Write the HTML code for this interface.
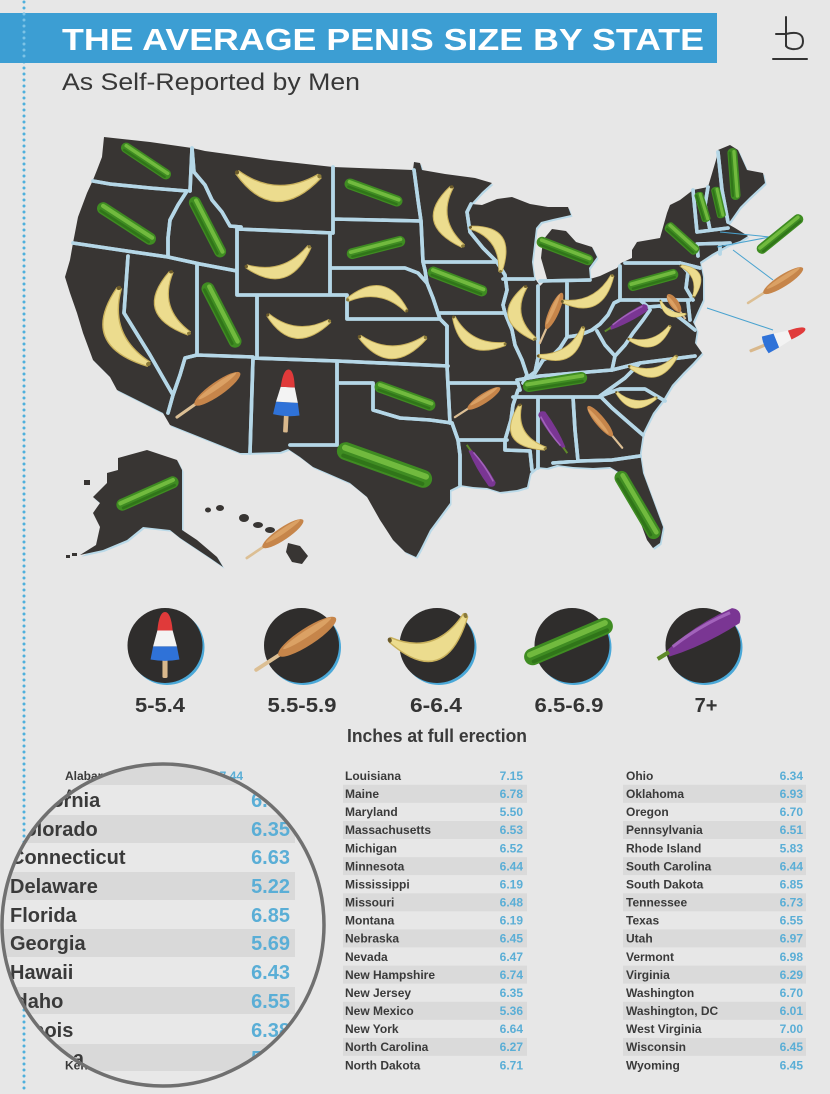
<!DOCTYPE html>
<html><head><meta charset="utf-8">
<style>
html,body{margin:0;padding:0;background:#e7e7e7;}
svg{display:block;}
text{font-family:"Liberation Sans",Arial,sans-serif;}
</style></head>
<body>
<svg width="830" height="1094" viewBox="0 0 830 1094" xmlns="http://www.w3.org/2000/svg">
<defs>
  <g id="cuc">
    <rect x="-50" y="-9" width="100" height="18" rx="9" fill="#3f8c22"/>
    <rect x="-46" y="-6" width="92" height="6" rx="3" fill="#7ec646" opacity=".8"/>
    <rect x="-44" y="3" width="88" height="4" rx="2" fill="#276514" opacity=".6"/>
  </g>
  <g id="ban">
    <path d="M-50,-18 Q0,40 50,-22 L46,-26 Q0,6 -47,-22 Z" fill="#ecdc8e" stroke="#c9b15c" stroke-width="1.5"/>
    <circle cx="-49" cy="-20" r="2.5" fill="#6b5a2a"/>
    <circle cx="48" cy="-24" r="2.5" fill="#8a7a3a"/>
  </g>
  <g id="cd">
    <line x1="-50" y1="0" x2="-10" y2="0" stroke="#dcbf94" stroke-width="4" stroke-linecap="round"/>
    <ellipse cx="14" cy="0" rx="36" ry="9" fill="#c6854a"/>
    <ellipse cx="16" cy="-3" rx="30" ry="3.5" fill="#e0a86a" opacity=".8"/>
  </g>
  <g id="egg">
    <path d="M-38,-2 Q0,-12 44,-10 Q54,-4 44,6 Q0,10 -38,4 Z" fill="#7a3693"/>
    <path d="M-30,-3 Q5,-9 40,-7" stroke="#b476cc" stroke-width="3" fill="none" opacity=".7"/>
    <path d="M-50,1 L-36,0" stroke="#5f8a2a" stroke-width="4"/>
  </g>
  <g id="pop">
    <rect x="-3" y="20" width="6" height="30" rx="2" fill="#d9b88c"/>
    <path d="M-14,2 L14,2 L17,22 Q0,26 -17,22 Z" fill="#2f72d8"/>
    <path d="M-9,-22 L9,-22 L14,2 L-14,2 Z" fill="#f3f3f3"/>
    <path d="M-9,-22 Q-7,-50 0,-50 Q7,-50 9,-22 Z" fill="#e03a3a"/>
  </g>
  <clipPath id="mag"><circle cx="163" cy="925" r="161"/></clipPath>
</defs>

<rect width="830" height="1094" fill="#e7e7e7"/>

<!-- dotted vertical line -->
<line x1="24" y1="2" x2="24" y2="1094" stroke="#4fb0dc" stroke-width="3" stroke-dasharray="0 6" stroke-linecap="round"/>

<!-- title bar -->
<rect x="0" y="13" width="717" height="50" fill="#3c9ed3"/>
<line x1="24" y1="14" x2="24" y2="62" stroke="#7cc3e6" stroke-width="3" stroke-dasharray="0 6" stroke-linecap="round"/>
<text x="62" y="50" font-size="31" font-weight="bold" fill="#ffffff" textLength="642" lengthAdjust="spacingAndGlyphs">THE AVERAGE PENIS SIZE BY STATE</text>
<text x="62" y="90" font-size="24" fill="#383838" textLength="298" lengthAdjust="spacingAndGlyphs">As Self-Reported by Men</text>

<!-- logo -->
<g stroke="#333" stroke-width="2" fill="none" stroke-linecap="round">
  <line x1="786" y1="17" x2="786" y2="46"/>
  <line x1="776" y1="34" x2="786" y2="34"/>
  <path d="M786,34 Q803,30 803,41 Q803,50 792,49 Q786,48 786,45"/>
  <line x1="773" y1="59" x2="807" y2="59"/>
</g>

<!-- MAP -->
<g>
<path transform="translate(1.5,1.8)" fill="#b9d9e8" d="M104,137 L150,142 L192,148 L205,151 L270,160 L333,167 L413,170 L414,162 L420,163 L422,170 L445,174 L475,178 L492,183 L482,192 L471,204 L482,205 L497,199 L512,197 L530,204 L548,207 L568,207 L571,215 L553,219 L541,222 L536,228 L534,245 L532,262 L534,277 L540,286 L547,279 L541,258 L543,240 L552,229 L566,231 L576,242 L592,247 L597,257 L589,268 L590,279 L600,276 L617,268 L621,263 L632,258 L632,250 L637,242 L660,238 L667,213 L670,205 L680,200 L693,190 L708,187 L716,160 L718,150 L730,145 L738,150 L747,170 L763,173 L765,183 L750,197 L740,207 L733,217 L728,224 L735,228 L748,236 L740,241 L728,245 L712,254 L700,262 L703,277 L703,300 L697,313 L693,322 L697,330 L695,343 L702,353 L693,363 L683,373 L672,385 L663,400 L653,413 L643,433 L640,453 L643,473 L653,500 L663,527 L660,543 L653,548 L647,540 L637,513 L630,493 L620,473 L610,467 L593,468 L573,467 L557,465 L547,468 L537,467 L530,473 L527,487 L517,490 L500,492 L487,488 L473,487 L460,485 L450,490 L450,503 L430,530 L420,550 L416,557 L405,552 L393,540 L380,520 L367,497 L350,483 L327,473 L313,467 L300,457 L288,449 L280,452 L247,453 L240,453 L170,425 L163,413 L137,400 L117,390 L110,377 L93,360 L83,333 L77,313 L70,293 L65,277 L70,260 L73,243 L78,217 L87,193 L93,180 L97,170 L102,157 Z"/>
<path fill="#383533" d="M104,137 L150,142 L192,148 L205,151 L270,160 L333,167 L413,170 L414,162 L420,163 L422,170 L445,174 L475,178 L492,183 L482,192 L471,204 L482,205 L497,199 L512,197 L530,204 L548,207 L568,207 L571,215 L553,219 L541,222 L536,228 L534,245 L532,262 L534,277 L540,286 L547,279 L541,258 L543,240 L552,229 L566,231 L576,242 L592,247 L597,257 L589,268 L590,279 L600,276 L617,268 L621,263 L632,258 L632,250 L637,242 L660,238 L667,213 L670,205 L680,200 L693,190 L708,187 L716,160 L718,150 L730,145 L738,150 L747,170 L763,173 L765,183 L750,197 L740,207 L733,217 L728,224 L735,228 L748,236 L740,241 L728,245 L712,254 L700,262 L703,277 L703,300 L697,313 L693,322 L697,330 L695,343 L702,353 L693,363 L683,373 L672,385 L663,400 L653,413 L643,433 L640,453 L643,473 L653,500 L663,527 L660,543 L653,548 L647,540 L637,513 L630,493 L620,473 L610,467 L593,468 L573,467 L557,465 L547,468 L537,467 L530,473 L527,487 L517,490 L500,492 L487,488 L473,487 L460,485 L450,490 L450,503 L430,530 L420,550 L416,557 L405,552 L393,540 L380,520 L367,497 L350,483 L327,473 L313,467 L300,457 L288,449 L280,452 L247,453 L240,453 L170,425 L163,413 L137,400 L117,390 L110,377 L93,360 L83,333 L77,313 L70,293 L65,277 L70,260 L73,243 L78,217 L87,193 L93,180 L97,170 L102,157 Z"/>

<!-- Alaska -->
<path transform="translate(1.5,1.8)" fill="#b9d9e8" d="M118,458 L147,450 L177,460 L182,470 L182,530 L197,540 L217,557 L223,567 L210,558 L195,548 L180,538 L170,530 L143,527 L127,540 L103,550 L80,555 L96,545 L100,527 L93,513 L100,503 L93,497 L107,483 L107,473 L118,470 Z"/>
<path fill="#383533" d="M118,458 L147,450 L177,460 L182,470 L182,530 L197,540 L217,557 L223,567 L210,558 L195,548 L180,538 L170,530 L143,527 L127,540 L103,550 L80,555 L96,545 L100,527 L93,513 L100,503 L93,497 L107,483 L107,473 L118,470 Z"/>
<g fill="#383533">
  <rect x="84" y="480" width="6" height="5"/>
  <rect x="72" y="553" width="5" height="3"/>
  <rect x="66" y="555" width="4" height="3"/>
</g>
<!-- Hawaii -->
<g fill="#383533">
  <ellipse cx="208" cy="510" rx="3" ry="2.5"/>
  <ellipse cx="220" cy="508" rx="4" ry="3"/>
  <ellipse cx="244" cy="518" rx="5" ry="4"/>
  <ellipse cx="258" cy="525" rx="5" ry="3"/>
  <ellipse cx="270" cy="530" rx="5" ry="3"/>
  <path d="M288,543 L300,546 L308,556 L302,564 L292,562 L286,552 Z"/>
</g>

<!-- state borders -->
<g fill="none" stroke-linejoin="round" stroke-linecap="round">
<path id="brd" stroke="#b5d7e7" stroke-width="3.6" d="
M93,181 L110,184 L150,188 L187,191
M192,148 L190,191
M187,191 L178,205 L170,220 L168,238 L168,257
M73,243 L120,250 L168,257 L200,264 L237,271
M192,148 L194,172 L205,185 L212,200 L222,212 L230,226 L241,227
M237,228 L237,271
M237,229 L333,233
M333,167 L333,233
M333,219 L421,221
M330,233 L330,295
M237,271 L237,295 L347,295
M330,268 L405,268 L418,273 L427,283
M347,295 L347,319 L440,319
M427,283 L433,298 L440,319 L447,326
M197,264 L197,355
M257,295 L257,358
M197,355 L253,357
M197,355 L185,358 L180,375 L173,395 L168,413
M128,256 L124,313 L150,355 L173,395
M253,358 L337,361 L448,366
M253,358 L250,453
M337,361 L337,445 L290,445
M337,383 L373,383 L373,410 L400,418 L430,420 L452,423
M447,326 L447,366 L450,423
M414,170 L418,200 L421,221 L423,262 L425,270 L427,283
M423,262 L497,262
M471,204 L467,212 L470,232 L483,248 L497,262
M497,262 L505,275 L507,290 L503,305 L505,313 L512,330 L515,345 L522,360 L527,375 L523,383
M440,313 L505,313
M503,279 L534,279
M450,383 L518,383 L520,390
M538,286 L538,358 L535,372 L527,378
M567,281 L567,337
M540,281 L590,280
M535,373 L543,360 L553,355 L560,348 L567,337
M567,337 L580,335 L592,330 L600,324 L608,315 L614,303 L620,300
M620,266 L620,300
M517,380 L540,376 L612,370
M597,331 L605,345 L615,356 L612,370
M615,356 L625,345 L633,333 L643,320 L650,310
M620,300 L690,300
M640,300 L648,307 L660,306 L672,312 L685,322 L695,330
M612,370 L640,363 L695,356
M640,363 L625,378 L600,396
M513,397 L600,397
M600,396 L620,389 L645,389 L665,401
M600,396 L612,408 L628,422 L643,435
M573,397 L575,430 L578,461
M553,463 L580,461 L612,460 L640,456
M538,397 L538,468
M518,390 L513,405 L511,420 L505,440 L505,450 L530,451 L532,470
M458,440 L507,440
M452,423 L458,440 L460,455 L460,485
M625,263 L680,263
M680,263 L688,272 L686,288 L693,300
M680,263 L700,268
M693,190 L697,232
M708,187 L705,205 L710,230
M718,152 L722,190 L728,222
M697,232 L728,228
M697,244 L730,243
M720,244 L720,254
M697,244 L698,256
M688,302 L690,320
"/>
<use href="#brd" stroke="#f1f6f8" stroke-width="2"/>
</g>

<!-- callout lines -->
<g stroke="#4aa3cf" stroke-width="1">
  <line x1="720" y1="232" x2="770" y2="237"/>
  <line x1="717" y1="247" x2="770" y2="237"/>
  <line x1="733" y1="250" x2="773" y2="280"/>
  <line x1="707" y1="308" x2="773" y2="330"/>
</g>

<!-- food items on map -->
<use href="#cuc" transform="translate(146,161) rotate(33.7) scale(.58)"/>
<use href="#cuc" transform="translate(126.5,223.5) rotate(33) scale(.68)"/>
<use href="#cuc" transform="translate(207.5,227) rotate(62.7) scale(.67)"/>
<use href="#ban" transform="translate(277,193) rotate(5) scale(.85)"/>
<use href="#cuc" transform="translate(373.5,192.5) rotate(20) scale(.61)"/>
<use href="#cuc" transform="translate(376,247.5) rotate(-14.5) scale(.6)"/>
<use href="#ban" transform="translate(282,271) rotate(-15) scale(.68)"/>
<use href="#ban" transform="translate(380,292) rotate(193) scale(.62)"/>
<use href="#ban" transform="translate(114,333) rotate(71.5) scale(.84,.95)"/>
<use href="#ban" transform="translate(163,307) rotate(76.6) scale(.66,.8)"/>
<use href="#cuc" transform="translate(221.5,315) rotate(62.7) scale(.72)"/>
<use href="#ban" transform="translate(297,332) rotate(8) scale(.64)"/>
<use href="#ban" transform="translate(392,352) rotate(3) scale(.68)"/>
<use href="#cd" transform="translate(208.5,395) rotate(-35) scale(.77)"/>
<use href="#pop" transform="translate(287,401) rotate(3) scale(.78,.63)"/>
<use href="#cuc" transform="translate(405,396) rotate(20) scale(.64)"/>
<use href="#cuc" transform="translate(384.5,465) rotate(19.7) scale(1.0)"/>
<use href="#cuc" transform="translate(147.5,493.5) rotate(-24) scale(.67)"/>
<use href="#cd" transform="translate(275,539) rotate(-34) scale(.68)"/>

<use href="#ban" transform="translate(441,219) rotate(82) scale(.62,.75)"/>
<use href="#ban" transform="translate(497,241) rotate(53) scale(.55,-.65)"/>
<use href="#cuc" transform="translate(565,251) rotate(21) scale(.6)"/>
<use href="#cuc" transform="translate(457.5,281.5) rotate(21) scale(.63)"/>
<use href="#ban" transform="translate(515,315) rotate(83) scale(.55,.7)"/>
<use href="#cd" transform="translate(551,318) rotate(-66) scale(.55)"/>
<use href="#ban" transform="translate(593,300) rotate(-25) scale(.58)"/>
<use href="#ban" transform="translate(473,342) rotate(30) scale(.6)"/>
<use href="#ban" transform="translate(567,352) rotate(-30) scale(.55)"/>
<use href="#egg" transform="translate(626.5,319) rotate(-28.6) scale(.5)"/>
<use href="#ban" transform="translate(652,342) rotate(-15) scale(.45)"/>
<use href="#cuc" transform="translate(555,382) rotate(-9) scale(.65)"/>
<use href="#ban" transform="translate(655,372) rotate(-10) scale(.5)"/>
<use href="#cd" transform="translate(477.5,402.5) rotate(-33) scale(.54)"/>
<use href="#ban" transform="translate(635,404) rotate(10) scale(.42)"/>
<use href="#ban" transform="translate(519,434) rotate(63) scale(.52,.7)"/>
<use href="#egg" transform="translate(554,432) rotate(-121) scale(.5)"/>
<use href="#cd" transform="translate(605,427) rotate(-129.7) scale(.54)"/>
<use href="#egg" transform="translate(480,466) rotate(59) scale(.5)"/>
<use href="#cuc" transform="translate(637.5,505) rotate(59.4) scale(.77)"/>
<use href="#cuc" transform="translate(653,280) rotate(-15.6) scale(.52,.6)"/>
<use href="#cuc" transform="translate(682,238.5) rotate(42) scale(.42,.6)"/>
<use href="#cuc" transform="translate(702.5,207) rotate(73) scale(.31,.5)"/>
<use href="#cuc" transform="translate(718.5,202.5) rotate(77) scale(.32,.5)"/>
<use href="#cuc" transform="translate(734,174) rotate(85.6) scale(.52,.55)"/>
<use href="#ban" transform="translate(696,277) rotate(64) scale(.35,-.45)"/>
<use href="#cd" transform="translate(676.5,306.5) rotate(-126) scale(.3,.5)"/>
<use href="#ban" transform="translate(670,313) rotate(30) scale(.3)"/>

<use href="#cuc" transform="translate(780,234) rotate(-39) scale(.57)"/>
<use href="#cd" transform="translate(775.5,285.5) rotate(-32.5) scale(.65)"/>
<use href="#pop" transform="translate(777.5,340) rotate(68) scale(.53,.6)"/>
</g>

<!-- LEGEND -->
<g>
  <circle cx="167" cy="647.5" r="37.5" fill="#4aa8d8"/>
  <circle cx="165" cy="645.5" r="37.5" fill="#2f2d2c"/>
  <circle cx="303.5" cy="647.5" r="37.5" fill="#4aa8d8"/>
  <circle cx="301.5" cy="645.5" r="37.5" fill="#2f2d2c"/>
  <circle cx="439" cy="647.5" r="37.5" fill="#4aa8d8"/>
  <circle cx="437" cy="645.5" r="37.5" fill="#2f2d2c"/>
  <circle cx="574" cy="647.5" r="37.5" fill="#4aa8d8"/>
  <circle cx="572" cy="645.5" r="37.5" fill="#2f2d2c"/>
  <circle cx="705" cy="647.5" r="37.5" fill="#4aa8d8"/>
  <circle cx="703" cy="645.5" r="37.5" fill="#2f2d2c"/>

  <use href="#pop" transform="translate(165,645) scale(.85,.66)"/>
  <use href="#cd" transform="translate(296,644) rotate(-33) scale(.95)"/>
  <use href="#ban" transform="translate(434,650) rotate(-15) scale(.82,1.05)"/>
  <use href="#cuc" transform="translate(568.5,641.5) rotate(-23) scale(.95)"/>
  <use href="#egg" transform="translate(699.5,636.5) rotate(-27) scale(.95,1.05)"/>

  <g font-size="20" font-weight="bold" fill="#343434" text-anchor="middle">
    <text x="160" y="712" textLength="50" lengthAdjust="spacingAndGlyphs">5-5.4</text>
    <text x="302" y="712" textLength="69" lengthAdjust="spacingAndGlyphs">5.5-5.9</text>
    <text x="436" y="712" textLength="52" lengthAdjust="spacingAndGlyphs">6-6.4</text>
    <text x="569" y="712" textLength="69" lengthAdjust="spacingAndGlyphs">6.5-6.9</text>
    <text x="706" y="712">7+</text>
  </g>
  <text x="437" y="742" font-size="18" font-weight="bold" fill="#3a3a3a" text-anchor="middle" textLength="180" lengthAdjust="spacingAndGlyphs">Inches at full erection</text>
</g>

<!-- TABLE columns 2 & 3 -->
<g fill="#dadada">
  <rect x="343" y="784.8" width="184" height="18"/><rect x="623" y="784.8" width="183" height="18"/>
  <rect x="343" y="821" width="184" height="18"/><rect x="623" y="821" width="183" height="18"/>
  <rect x="343" y="857.1" width="184" height="18"/><rect x="623" y="857.1" width="183" height="18"/>
  <rect x="343" y="893.3" width="184" height="18"/><rect x="623" y="893.3" width="183" height="18"/>
  <rect x="343" y="929.4" width="184" height="18"/><rect x="623" y="929.4" width="183" height="18"/>
  <rect x="343" y="965.6" width="184" height="18"/><rect x="623" y="965.6" width="183" height="18"/>
  <rect x="343" y="1001.8" width="184" height="18"/><rect x="623" y="1001.8" width="183" height="18"/>
  <rect x="343" y="1037.9" width="184" height="18"/><rect x="623" y="1037.9" width="183" height="18"/>
</g>
<g font-size="12" font-weight="bold" fill="#3a3a3a">
  <text x="345" y="780">Louisiana</text>
  <text x="345" y="798.1">Maine</text>
  <text x="345" y="816.2">Maryland</text>
  <text x="345" y="834.2">Massachusetts</text>
  <text x="345" y="852.3">Michigan</text>
  <text x="345" y="870.4">Minnesota</text>
  <text x="345" y="888.5">Mississippi</text>
  <text x="345" y="906.6">Missouri</text>
  <text x="345" y="924.6">Montana</text>
  <text x="345" y="942.7">Nebraska</text>
  <text x="345" y="960.8">Nevada</text>
  <text x="345" y="978.9">New Hampshire</text>
  <text x="345" y="997">New Jersey</text>
  <text x="345" y="1015">New Mexico</text>
  <text x="345" y="1033.1">New York</text>
  <text x="345" y="1051.2">North Carolina</text>
  <text x="345" y="1069.3">North Dakota</text>

  <text x="626" y="780">Ohio</text>
  <text x="626" y="798.1">Oklahoma</text>
  <text x="626" y="816.2">Oregon</text>
  <text x="626" y="834.2">Pennsylvania</text>
  <text x="626" y="852.3">Rhode Island</text>
  <text x="626" y="870.4">South Carolina</text>
  <text x="626" y="888.5">South Dakota</text>
  <text x="626" y="906.6">Tennessee</text>
  <text x="626" y="924.6">Texas</text>
  <text x="626" y="942.7">Utah</text>
  <text x="626" y="960.8">Vermont</text>
  <text x="626" y="978.9">Virginia</text>
  <text x="626" y="997">Washington</text>
  <text x="626" y="1015">Washington, DC</text>
  <text x="626" y="1033.1">West Virginia</text>
  <text x="626" y="1051.2">Wisconsin</text>
  <text x="626" y="1069.3">Wyoming</text>

  <text x="65" y="780">Alabama</text>
  <text x="65" y="798.1">Alaska</text>
  <text x="65" y="1069.3">Kentucky</text>
</g>
<g font-size="12" font-weight="bold" fill="#5aaed6" text-anchor="end">
  <text x="523" y="780">7.15</text>
  <text x="523" y="798.1">6.78</text>
  <text x="523" y="816.2">5.50</text>
  <text x="523" y="834.2">6.53</text>
  <text x="523" y="852.3">6.52</text>
  <text x="523" y="870.4">6.44</text>
  <text x="523" y="888.5">6.19</text>
  <text x="523" y="906.6">6.48</text>
  <text x="523" y="924.6">6.19</text>
  <text x="523" y="942.7">6.45</text>
  <text x="523" y="960.8">6.47</text>
  <text x="523" y="978.9">6.74</text>
  <text x="523" y="997">6.35</text>
  <text x="523" y="1015">5.36</text>
  <text x="523" y="1033.1">6.64</text>
  <text x="523" y="1051.2">6.27</text>
  <text x="523" y="1069.3">6.71</text>

  <text x="803" y="780">6.34</text>
  <text x="803" y="798.1">6.93</text>
  <text x="803" y="816.2">6.70</text>
  <text x="803" y="834.2">6.51</text>
  <text x="803" y="852.3">5.83</text>
  <text x="803" y="870.4">6.44</text>
  <text x="803" y="888.5">6.85</text>
  <text x="803" y="906.6">6.73</text>
  <text x="803" y="924.6">6.55</text>
  <text x="803" y="942.7">6.97</text>
  <text x="803" y="960.8">6.98</text>
  <text x="803" y="978.9">6.29</text>
  <text x="803" y="997">6.70</text>
  <text x="803" y="1015">6.01</text>
  <text x="803" y="1033.1">7.00</text>
  <text x="803" y="1051.2">6.45</text>
  <text x="803" y="1069.3">6.45</text>

  <text x="243" y="780">7.44</text>
</g>

<!-- MAGNIFIER -->
<circle cx="163" cy="925" r="161" fill="#e8e8e8"/>
<g clip-path="url(#mag)">
  <g fill="#d9d9d9">
    <rect x="0" y="757" width="295" height="28"/>
    <rect x="0" y="815" width="295" height="28"/>
    <rect x="0" y="872" width="295" height="28"/>
    <rect x="0" y="929" width="295" height="28"/>
    <rect x="0" y="987" width="295" height="27"/>
    <rect x="0" y="1044" width="295" height="27"/>
  </g>
  <g font-size="20" font-weight="bold" fill="#3a3a3a">
    <text x="10" y="778">Arkansas</text>
    <text x="8" y="807">California</text>
    <text x="10" y="836">Colorado</text>
    <text x="10" y="864">Connecticut</text>
    <text x="10" y="893">Delaware</text>
    <text x="10" y="922">Florida</text>
    <text x="10" y="950">Georgia</text>
    <text x="10" y="979">Hawaii</text>
    <text x="10" y="1008">Idaho</text>
    <text x="10" y="1037">Illinois</text>
    <text x="14" y="1065">Indiana</text>
  </g>
  <g font-size="20" font-weight="bold" fill="#5aaed6" text-anchor="end">
    <text x="290" y="778">6.42</text>
    <text x="290" y="807">6.58</text>
    <text x="290" y="836">6.35</text>
    <text x="290" y="864">6.63</text>
    <text x="290" y="893">5.22</text>
    <text x="290" y="922">6.85</text>
    <text x="290" y="950">5.69</text>
    <text x="290" y="979">6.43</text>
    <text x="290" y="1008">6.55</text>
    <text x="290" y="1037">6.38</text>
    <text x="290" y="1065">5.88</text>
  </g>
</g>
<circle cx="163" cy="925" r="161" fill="none" stroke="#707070" stroke-width="3.5"/>
</svg>
</body></html>
